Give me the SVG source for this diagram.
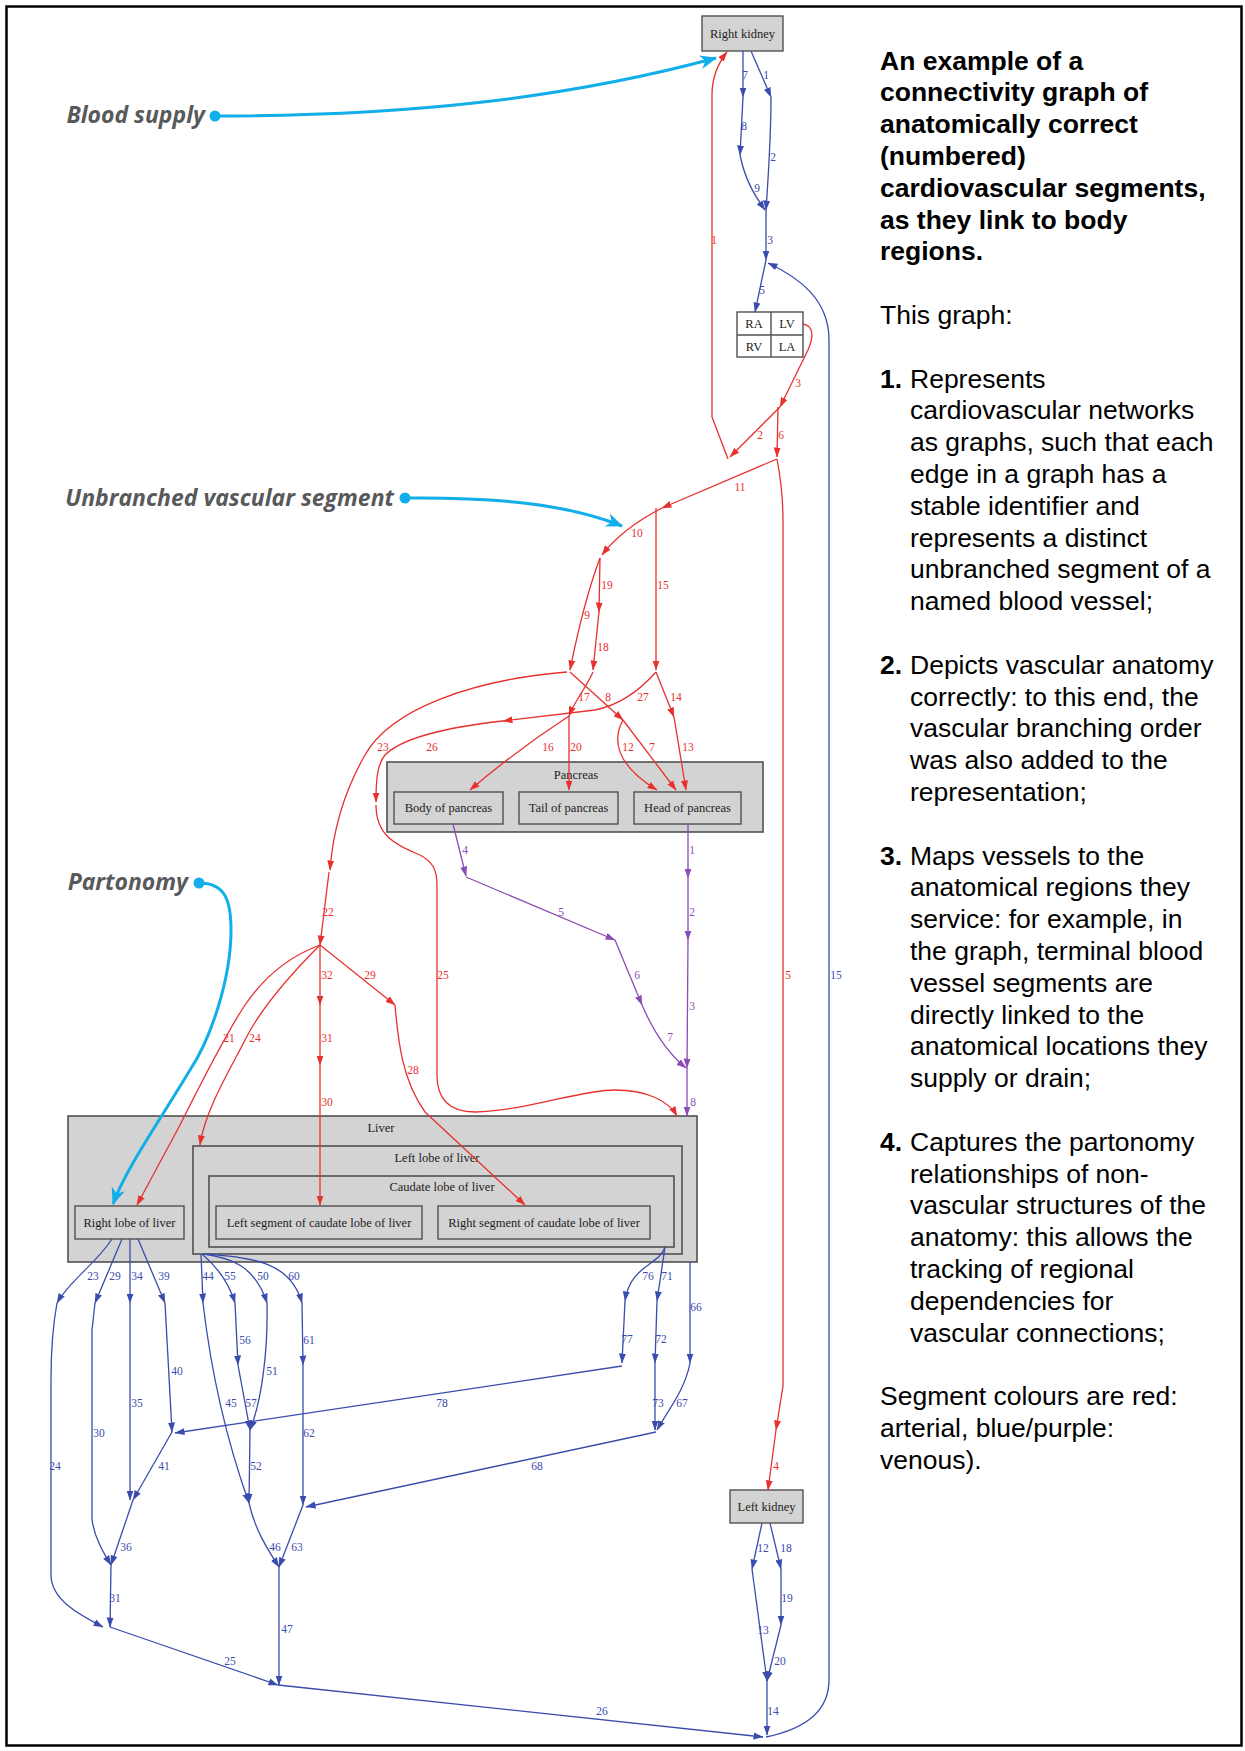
<svg xmlns="http://www.w3.org/2000/svg" width="1245" height="1751" viewBox="0 0 1245 1751">
<defs>
<marker id="ar" markerUnits="userSpaceOnUse" markerWidth="10" markerHeight="8" refX="9.5" refY="4" orient="auto"><path d="M0,0.5 L10,4 L0,7.5 z" fill="#e8302e"/></marker>
<marker id="ab" markerUnits="userSpaceOnUse" markerWidth="10" markerHeight="8" refX="9.5" refY="4" orient="auto"><path d="M0,0.5 L10,4 L0,7.5 z" fill="#3a4cad"/></marker>
<marker id="ap" markerUnits="userSpaceOnUse" markerWidth="10" markerHeight="8" refX="9.5" refY="4" orient="auto"><path d="M0,0.5 L10,4 L0,7.5 z" fill="#8a4db5"/></marker>
<marker id="ac" markerUnits="userSpaceOnUse" markerWidth="18" markerHeight="14" refX="16" refY="7" orient="auto"><path d="M0,0 L17,7 L0,14 L5,7 z" fill="#12aeea"/></marker>
</defs>
<style>
.e{fill:none;stroke-width:1.3}
.r{stroke:#e8302e;marker-end:url(#ar)}
.b{stroke:#3a4cad;marker-end:url(#ab)}
.p{stroke:#8a4db5;marker-end:url(#ap)}
.c{fill:none;stroke:#12aeea;stroke-width:3;marker-end:url(#ac)}
.dot{fill:#12aeea}
.cl{fill:#d3d3d3;stroke:#505050;stroke-width:1.6}
.nd{fill:#d3d3d3;stroke:#505050;stroke-width:1.4}
.tb{fill:#ffffff;stroke:#505050;stroke-width:1.4}
.nt{font-family:"Liberation Serif",serif;font-size:12.5px;fill:#222;text-anchor:middle}
.l{font-family:"Liberation Serif",serif;font-size:11.5px;text-anchor:middle}
.lr{fill:#e8302e}.lb{fill:#3a4cad}.lp{fill:#8a4db5}
.ann{font-family:"Open Sans","DejaVu Sans",sans-serif;font-weight:bold;font-style:italic;font-size:23px;fill:#58595b;text-anchor:end}
.tt{font-family:"Liberation Sans",Arial,sans-serif;font-size:26.5px;fill:#000}
.bd{font-weight:bold}
</style>
<rect x="6.5" y="6.5" width="1235" height="1739" fill="#ffffff" stroke="#000" stroke-width="2.5"/>

<g id="node-right-kidney"><rect class="nd" x="702" y="16" width="81" height="35"/><text class="nt" x="742.5" y="38">Right kidney</text></g>
<g id="node-heart"><rect class="tb" x="737" y="312" width="66" height="45"/><line x1="771" y1="312" x2="771" y2="357" stroke="#505050" stroke-width="1.4"/><line x1="737" y1="335" x2="803" y2="335" stroke="#505050" stroke-width="1.4"/>
<text class="nt" x="754" y="328">RA</text><text class="nt" x="787" y="328">LV</text><text class="nt" x="754" y="351">RV</text><text class="nt" x="787" y="351">LA</text></g>
<g id="cluster-pancreas"><rect class="cl" x="387" y="762" width="376" height="70"/><text class="nt" x="576" y="779">Pancreas</text>
<g id="node-body-of-pancreas"><rect class="nd" x="394" y="792" width="109" height="32"/><text class="nt" x="448.5" y="812">Body of pancreas</text></g>
<g id="node-tail-of-pancreas"><rect class="nd" x="519" y="792" width="99" height="32"/><text class="nt" x="568.5" y="812">Tail of pancreas</text></g>
<g id="node-head-of-pancreas"><rect class="nd" x="634" y="792" width="107" height="32"/><text class="nt" x="687.5" y="812">Head of pancreas</text></g></g>
<g id="cluster-liver"><rect class="cl" x="68" y="1116" width="629" height="146"/><text class="nt" x="381" y="1132">Liver</text>
<g id="node-right-lobe-of-liver"><rect class="nd" x="75" y="1206" width="109" height="33"/><text class="nt" x="129.5" y="1227">Right lobe of liver</text></g>
<g id="cluster-left-lobe"><rect class="cl" x="193" y="1146" width="489" height="108"/><text class="nt" x="437" y="1162">Left lobe of liver</text>
<g id="cluster-caudate"><rect class="cl" x="209" y="1176" width="465" height="71"/><text class="nt" x="442" y="1191">Caudate lobe of liver</text>
<g id="node-left-segment"><rect class="nd" x="216" y="1206" width="206" height="33"/><text class="nt" x="319" y="1227">Left segment of caudate lobe of liver</text></g>
<g id="node-right-segment"><rect class="nd" x="438" y="1206" width="212" height="33"/><text class="nt" x="544" y="1227">Right segment of caudate lobe of liver</text></g></g></g></g>
<g id="node-left-kidney"><rect class="nd" x="730" y="1490" width="73" height="33"/><text class="nt" x="766.5" y="1511">Left kidney</text></g>

<g id="connectors">
<path class="e b" d="M743,51 L743,97"/>
<path class="e b" d="M743,97 L740,155"/>
<path class="e b" d="M740,155 C745,180 755,196 765,210"/>
<path class="e b" d="M751,51 L771,97"/>
<path class="e b" d="M771,97 C771,140 768,180 766,210"/>
<path class="e b" d="M766,210 L766,260"/>
<path class="e b" d="M766,260 L755,312"/>
<path class="e b" d="M766,1737 C800,1730 829,1715 829,1680 L829,340 C829,300 800,278 768,263"/>
<path class="e r" d="M728,459 L712,417 L712,95 C712,75 719,62 727,52"/>
<path class="e r" d="M803,324 C815,326 813,338 808,350 L780,407"/>
<path class="e r" d="M780,407 L730,457"/>
<path class="e r" d="M778,407 L777,457"/>
<path class="e r" d="M777,459 L662,508"/>
<path class="e r" d="M777,459 C781,480 783,500 783,520 L783,1386 L776,1430"/>
<path class="e r" d="M776,1430 L768,1490"/>
<path class="e r" d="M662,508 C635,522 615,538 602,555"/>
<path class="e r" d="M656,508 L656,670"/>
<path class="e r" d="M600,558 L599,612"/>
<path class="e r" d="M599,612 L593,670"/>
<path class="e r" d="M600,558 C588,590 578,630 570,670"/>
<path class="e r" d="M567,672 C470,680 390,710 365,755 C345,790 333,830 330,870"/>
<path class="e r" d="M329,872 L320,945"/>
<path class="e r" d="M570,672 L623,720"/>
<path class="e r" d="M593,672 C585,690 575,700 569,716"/>
<path class="e r" d="M656,672 C640,690 620,705 595,710 L503,721"/>
<path class="e r" d="M656,672 L674,717"/>
<path class="e r" d="M674,717 L686,790"/>
<path class="e r" d="M623,720 C612,740 616,765 657,790"/>
<path class="e r" d="M623,720 L676,790"/>
<path class="e r" d="M569,716 C540,735 505,760 470,790"/>
<path class="e r" d="M569,716 L569,790"/>
<path class="e r" d="M503,721 C440,728 400,740 385,755 C377,765 376,780 376,802"/>
<path class="e r" d="M376,805 C376,835 395,845 420,855 C433,862 437,870 437,885 L437,1075 C437,1100 450,1112 475,1112 C530,1110 580,1090 615,1090 C645,1090 668,1100 677,1116"/>
<path class="e r" d="M320,945 L320,1005"/>
<path class="e r" d="M320,1005 L320,1065"/>
<path class="e r" d="M320,1065 L320,1205"/>
<path class="e r" d="M320,945 L395,1005"/>
<path class="e r" d="M395,1005 C398,1040 402,1080 425,1112 L525,1205"/>
<path class="e r" d="M320,945 C290,975 260,1010 245,1040 C230,1070 205,1110 200,1145"/>
<path class="e r" d="M320,945 C285,958 262,980 245,1005 C225,1035 200,1085 180,1125 L137,1205"/>
<path class="e p" d="M453,824 L466,876"/>
<path class="e p" d="M466,877 L615,940"/>
<path class="e p" d="M615,940 L642,1005"/>
<path class="e p" d="M642,1005 C655,1035 670,1055 686,1068"/>
<path class="e p" d="M688,824 L688,878"/>
<path class="e p" d="M688,878 L688,940"/>
<path class="e p" d="M688,940 L687,1068"/>
<path class="e p" d="M687,1068 L687,1116"/>
<path class="e b" d="M112,1239 C95,1265 70,1280 57,1303"/>
<path class="e b" d="M122,1239 L95,1303"/>
<path class="e b" d="M130,1239 L130,1303"/>
<path class="e b" d="M138,1239 L165,1303"/>
<path class="e b" d="M57,1303 C52,1330 51,1350 51,1380 L51,1575 C51,1600 80,1615 103,1627"/>
<path class="e b" d="M95,1303 L92,1330 L92,1520 C95,1540 105,1555 111,1565"/>
<path class="e b" d="M130,1303 L130,1500"/>
<path class="e b" d="M165,1303 L172,1432"/>
<path class="e b" d="M172,1432 L133,1500"/>
<path class="e b" d="M133,1500 L111,1565"/>
<path class="e b" d="M111,1565 L110,1627"/>
<path class="e b" d="M110,1627 L278,1685"/>
<path class="e b" d="M278,1685 L763,1737"/>
<path class="e b" d="M201,1254 L203,1303"/>
<path class="e b" d="M202,1254 C215,1265 228,1280 235,1303"/>
<path class="e b" d="M204,1254 C230,1258 255,1265 267,1303"/>
<path class="e b" d="M206,1254 C250,1258 290,1260 302,1303"/>
<path class="e b" d="M235,1303 L238,1365"/>
<path class="e b" d="M302,1303 L303,1365"/>
<path class="e b" d="M267,1303 C268,1350 262,1400 250,1430"/>
<path class="e b" d="M238,1365 L250,1430"/>
<path class="e b" d="M203,1303 C212,1380 230,1450 249,1503"/>
<path class="e b" d="M250,1430 L249,1503"/>
<path class="e b" d="M249,1503 C255,1530 268,1550 279,1567"/>
<path class="e b" d="M303,1365 L303,1505"/>
<path class="e b" d="M303,1505 L279,1567"/>
<path class="e b" d="M279,1567 L279,1685"/>
<path class="e b" d="M656,1432 L306,1507"/>
<path class="e b" d="M622,1366 L175,1433"/>
<path class="e b" d="M665,1247 C660,1265 630,1265 625,1301"/>
<path class="e b" d="M665,1247 L657,1301"/>
<path class="e b" d="M690,1262 L690,1363"/>
<path class="e b" d="M625,1301 L622,1363"/>
<path class="e b" d="M657,1301 L655,1363"/>
<path class="e b" d="M655,1363 L655,1430"/>
<path class="e b" d="M690,1363 C685,1390 668,1410 657,1430"/>
<path class="e b" d="M762,1523 L752,1569"/>
<path class="e b" d="M770,1523 L781,1569"/>
<path class="e b" d="M781,1569 L781,1625"/>
<path class="e b" d="M752,1569 L767,1681"/>
<path class="e b" d="M781,1625 L767,1681"/>
<path class="e b" d="M767,1681 L767,1735"/>
</g>

<g id="edge-labels" class="l">
<g class="lb"><text x="745" y="79">7</text><text x="744" y="130">8</text><text x="757" y="192">9</text><text x="766" y="79">1</text><text x="773" y="161">2</text><text x="770" y="244">3</text><text x="762" y="294">5</text><text x="836" y="979">15</text></g>
<g class="lr"><text x="714" y="244">1</text><text x="798" y="387">3</text><text x="760" y="439">2</text><text x="781" y="439">6</text><text x="740" y="491">11</text><text x="788" y="979">5</text><text x="776" y="1470">4</text><text x="637" y="537">10</text><text x="663" y="589">15</text><text x="607" y="589">19</text><text x="603" y="651">18</text><text x="587" y="619">9</text><text x="383" y="751">23</text><text x="328" y="916">22</text><text x="608" y="701">8</text><text x="584" y="701">17</text><text x="643" y="701">27</text><text x="676" y="701">14</text><text x="688" y="751">13</text><text x="628" y="751">12</text><text x="652" y="751">7</text><text x="548" y="751">16</text><text x="576" y="751">20</text><text x="432" y="751">26</text><text x="443" y="979">25</text><text x="327" y="979">32</text><text x="327" y="1042">31</text><text x="327" y="1106">30</text><text x="370" y="979">29</text><text x="413" y="1074">28</text><text x="255" y="1042">24</text><text x="229" y="1042">21</text></g>
<g class="lp"><text x="465" y="854">4</text><text x="561" y="916">5</text><text x="637" y="979">6</text><text x="670" y="1041">7</text><text x="692" y="854">1</text><text x="692" y="916">2</text><text x="692" y="1010">3</text><text x="693" y="1106">8</text></g>
<g class="lb"><text x="93" y="1280">23</text><text x="115" y="1280">29</text><text x="137" y="1280">34</text><text x="164" y="1280">39</text><text x="55" y="1470">24</text><text x="99" y="1437">30</text><text x="137" y="1407">35</text><text x="177" y="1375">40</text><text x="164" y="1470">41</text><text x="126" y="1551">36</text><text x="115" y="1602">31</text><text x="230" y="1665">25</text><text x="602" y="1715">26</text><text x="208" y="1280">44</text><text x="230" y="1280">55</text><text x="263" y="1280">50</text><text x="294" y="1280">60</text><text x="245" y="1344">56</text><text x="309" y="1344">61</text><text x="272" y="1375">51</text><text x="251" y="1407">57</text><text x="231" y="1407">45</text><text x="256" y="1470">52</text><text x="275" y="1551">46</text><text x="309" y="1437">62</text><text x="297" y="1551">63</text><text x="287" y="1633">47</text><text x="537" y="1470">68</text><text x="442" y="1407">78</text><text x="648" y="1280">76</text><text x="667" y="1280">71</text><text x="696" y="1311">66</text><text x="627" y="1343">77</text><text x="661" y="1343">72</text><text x="658" y="1407">73</text><text x="682" y="1407">67</text><text x="763" y="1552">12</text><text x="786" y="1552">18</text><text x="787" y="1602">19</text><text x="763" y="1634">13</text><text x="780" y="1665">20</text><text x="773" y="1715">14</text></g>
</g>

<g id="annotation-blood-supply"><text class="ann" x="205" y="123">Blood supply</text><circle class="dot" cx="215" cy="116" r="5.5"/><path class="c" d="M215,116 C400,116 560,100 716,58"/></g>
<g id="annotation-unbranched"><text class="ann" x="394" y="506">Unbranched vascular segment</text><circle class="dot" cx="405" cy="498" r="5.5"/><path class="c" d="M405,498 C500,497 570,505 622,526"/></g>
<g id="annotation-partonomy"><text class="ann" x="188" y="890">Partonomy</text><circle class="dot" cx="199" cy="883" r="5.5"/><path class="c" d="M199,883 C225,883 231,900 231,930 C231,980 210,1040 190,1070 C160,1120 125,1170 113,1204"/></g>

<g id="description" class="tt">
<text class="bd" x="880" y="69.5">An example of a</text>
<text class="bd" x="880" y="101.3">connectivity graph of</text>
<text class="bd" x="880" y="133.1">anatomically correct</text>
<text class="bd" x="880" y="164.9">(numbered)</text>
<text class="bd" x="880" y="196.7">cardiovascular segments,</text>
<text class="bd" x="880" y="228.5">as they link to body</text>
<text class="bd" x="880" y="260.3">regions.</text>
<text x="880" y="323.9">This graph:</text>
<text class="bd" x="880" y="387.5">1.</text><text x="910" y="387.5">Represents</text>
<text x="910" y="419.3">cardiovascular networks</text>
<text x="910" y="451.1">as graphs, such that each</text>
<text x="910" y="482.9">edge in a graph has a</text>
<text x="910" y="514.7">stable identifier and</text>
<text x="910" y="546.5">represents a distinct</text>
<text x="910" y="578.3">unbranched segment of a</text>
<text x="910" y="610.1">named blood vessel;</text>
<text class="bd" x="880" y="673.7">2.</text><text x="910" y="673.7">Depicts vascular anatomy</text>
<text x="910" y="705.5">correctly: to this end, the</text>
<text x="910" y="737.3">vascular branching order</text>
<text x="910" y="769.1">was also added to the</text>
<text x="910" y="800.9">representation;</text>
<text class="bd" x="880" y="864.5">3.</text><text x="910" y="864.5">Maps vessels to the</text>
<text x="910" y="896.3">anatomical regions they</text>
<text x="910" y="928.1">service: for example, in</text>
<text x="910" y="959.9">the graph, terminal blood</text>
<text x="910" y="991.7">vessel segments are</text>
<text x="910" y="1023.5">directly linked to the</text>
<text x="910" y="1055.3">anatomical locations they</text>
<text x="910" y="1087.1">supply or drain;</text>
<text class="bd" x="880" y="1150.7">4.</text><text x="910" y="1150.7">Captures the partonomy</text>
<text x="910" y="1182.5">relationships of non-</text>
<text x="910" y="1214.3">vascular structures of the</text>
<text x="910" y="1246.1">anatomy: this allows the</text>
<text x="910" y="1277.9">tracking of regional</text>
<text x="910" y="1309.7">dependencies for</text>
<text x="910" y="1341.5">vascular connections;</text>
<text x="880" y="1405.1">Segment colours are red:</text>
<text x="880" y="1436.9">arterial, blue/purple:</text>
<text x="880" y="1468.7">venous).</text>
</g>
</svg>
